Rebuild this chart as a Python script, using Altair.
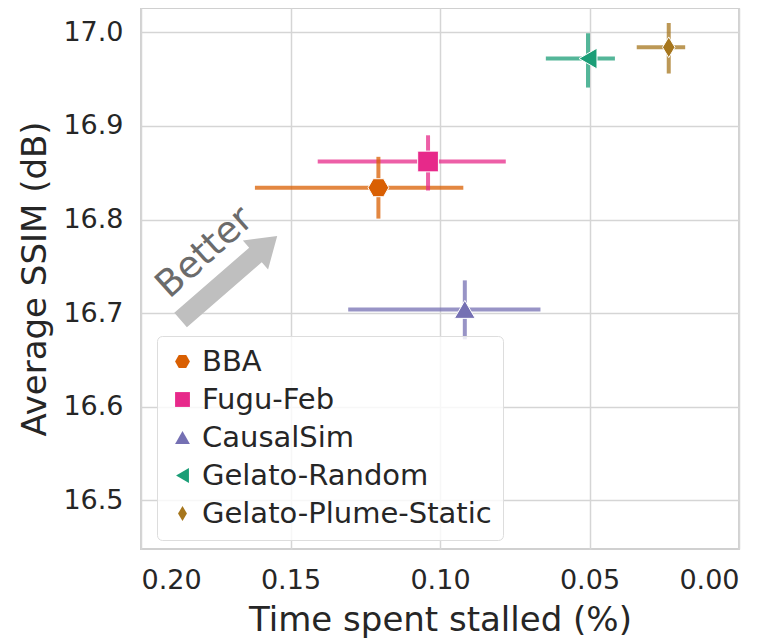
import altair as alt
import pandas as pd

methods = ["BBA", "Fugu-Feb", "CausalSim", "Gelato-Random", "Gelato-Plume-Static"]
colors = ["#d95f02", "#e7298a", "#7570b3", "#1b9e77", "#a6761d"]
shapes = [
    "M-1,0L-0.5,-0.866L0.5,-0.866L1,0L0.5,0.866L-0.5,0.866Z",
    "square",
    "triangle-up",
    "triangle-left",
    "M0,-1L0.6,0L0,1L-0.6,0Z",
]
stall = [0.1206, 0.104, 0.0917, 0.0505, 0.0235]
stall_lo = [0.1619, 0.1409, 0.1307, 0.0646, 0.0342]
stall_hi = [0.0922, 0.0780, 0.0664, 0.0415, 0.0180]
ssim = [16.834, 16.862, 16.704, 16.972, 16.984]
ssim_lo = [16.801, 16.831, 16.672, 16.941, 16.956]
ssim_hi = [16.867, 16.890, 16.735, 16.999, 17.010]

x_ticks = [0.0, 0.05, 0.10, 0.15, 0.20]
y_ticks = [16.5, 16.6, 16.7, 16.8, 16.9, 17.0]

arrow_x = [0.1706]
arrow_y = [16.7375]
label_x = [0.1787]
label_y = [16.7645]
label_text = ["Better"]

df = pd.DataFrame({
    "method": methods, "x": stall, "xlo": stall_lo, "xhi": stall_hi,
    "y": ssim, "ylo": ssim_lo, "yhi": ssim_hi,
})
arrow_df = pd.DataFrame({"x": arrow_x, "y": arrow_y})
label_df = pd.DataFrame({"x": label_x, "y": label_y, "t": label_text})

xscale = alt.Scale(domain=[0.0, 0.2], reverse=True, nice=False)
yscale = alt.Scale(domain=[16.448, 17.026], nice=False, zero=False)
xaxis = alt.Axis(values=x_ticks, format=".2f", title="Time spent stalled (%)")
yaxis = alt.Axis(values=y_ticks, format=".1f", title="Average SSIM (dB)")
cscale = alt.Scale(domain=methods, range=colors)
sscale = alt.Scale(domain=methods, range=shapes)
# stroke scale for error bars: same order via sort, data-derived domain
stroke_enc = alt.Stroke("method:N", sort=methods, scale=alt.Scale(range=colors), legend=None)

base = alt.Chart(df)

xerr = base.mark_rule(strokeWidth=4, opacity=0.75).encode(
    x=alt.X("xlo:Q", scale=xscale, axis=xaxis),
    x2="xhi:Q",
    y=alt.Y("y:Q", scale=yscale, axis=yaxis),
    stroke=stroke_enc,
)
yerr = base.mark_rule(strokeWidth=4, opacity=0.75).encode(
    x=alt.X("x:Q", scale=xscale, axis=xaxis),
    y=alt.Y("ylo:Q", scale=yscale, axis=yaxis),
    y2="yhi:Q",
    stroke=stroke_enc,
)
legend = alt.Legend(
    title=None, orient="none", legendX=16, legendY=328,
    labelFontSize=29, labelColor="#262626", symbolSize=220,
    rowPadding=8, labelOffset=5, padding=11,
    strokeColor="#dddddd", cornerRadius=5, fillColor="rgba(255,255,255,0.8)",
    symbolStrokeWidth=0, labelLimit=400,
)
points = base.mark_point(filled=True, size=430, opacity=1, stroke="white", strokeWidth=1).encode(
    x=alt.X("x:Q", scale=xscale, axis=xaxis),
    y=alt.Y("y:Q", scale=yscale, axis=yaxis),
    color=alt.Color("method:N", scale=cscale, legend=legend),
    shape=alt.Shape("method:N", scale=sscale, legend=legend),
)

arrow = alt.Chart(arrow_df).mark_point(
    filled=True, opacity=1, color="#bfbfbf", size=16384, angle=319,
    shape="M-1,-0.15L0.55,-0.15L0.55,-0.3L1,0L0.55,0.3L0.55,0.15L-1,0.15Z",
).encode(x=alt.X("x:Q", scale=xscale), y=alt.Y("y:Q", scale=yscale))

better = alt.Chart(label_df).mark_text(
    angle=318, fontSize=37, color="#6b6b6b", align="center", baseline="middle",
).encode(x=alt.X("x:Q", scale=xscale), y=alt.Y("y:Q", scale=yscale), text="t:N")

chart = alt.layer(arrow, better, xerr, yerr, points).properties(
    width=598, height=541,
    autosize=alt.AutoSizeParams(type="none"),
    padding={"left": 133, "top": 0, "right": 20, "bottom": 90},
).configure(
    font="DejaVu Sans",
).configure_view(
    stroke="#d0d0d0", strokeWidth=2,
).configure_axis(
    domain=False, ticks=False, tickSize=0, grid=True, gridColor="#d5d5d5", gridWidth=1.5,
    labelFontSize=27, labelColor="#262626", titleFontSize=34, titleColor="#262626",
    titleFontWeight="normal",
).configure_axisX(
    labelPadding=18, titlePadding=10,
).configure_axisY(
    labelPadding=18, titlePadding=10,
)

chart.save("out.html", embed_options={"renderer": "svg", "actions": False})
